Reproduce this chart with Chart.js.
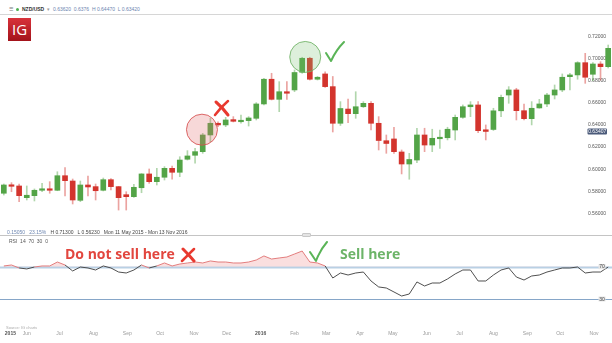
<!DOCTYPE html>
<html>
<head>
<meta charset="utf-8">
<title>NZD/USD weekly with RSI</title>
<script src="https://cdn.jsdelivr.net/npm/chart.js@4.4.1/dist/chart.umd.min.js"></script>
<style>
  html, body { margin: 0; padding: 0; background: #fff; }
  body { position: relative; width: 612px; height: 343px; overflow: hidden; font-family: "Liberation Sans", Arial, sans-serif; }
  .abs { position: absolute; white-space: nowrap; }
  .tiny { font-size: 5px; line-height: 6px; }
  #topbar { left: 0; top: 0; width: 612px; height: 14px; border-bottom: 1px solid #d6d6d6; }
  #logo { left: 8px; top: 18px; width: 23px; height: 23px; background: linear-gradient(#d8323a, #a3131b); color: #fff;
          font: 400 15px/23px "Open Sans", sans-serif; text-align: center; z-index: 3; }
  #priceChart { left: 0; top: 15px; }
  #rsiChart { left: 0; top: 236px; }
  #divider { left: 0; top: 235px; width: 612px; height: 1px; background: #c4c4c4; }
  #handle { left: 302px; top: 233px; width: 9px; height: 4px; border-radius: 1px; background: #e4e4e4; border: 1px solid #c8c8c8; box-sizing: border-box; }
  .note { font: 700 14px/16px "Open Sans", sans-serif; z-index: 3; }
  #marks { left: 0; top: 0; z-index: 4; pointer-events: none; }
</style>
</head>
<body>

<div id="topbar" class="abs"></div>
<div class="abs tiny" style="left:9px; top:6px; color:#777;">☰</div>
<div class="abs" style="left:16px; top:7.5px; width:3px; height:3px; border-radius:50%; background:#4caf50;"></div>
<div class="abs tiny" style="left:22px; top:6px; color:#333; font-weight:bold;">NZD/USD</div>
<div class="abs tiny" style="left:47px; top:6px; color:#999;">▾</div>
<div class="abs tiny" style="left:53px; top:6px; color:#6d86b0;">0.63620 &nbsp;0.6376 &nbsp;H 0.64470 &nbsp;L 0.63420</div>

<div id="logo" class="abs">IG</div>

<canvas id="priceChart" class="abs" width="612" height="217"></canvas>

<div class="abs tiny" style="left:7px; top:229px; color:#6d86b0;">0.15050 &nbsp;&nbsp;23.15% &nbsp;&nbsp;<span style="color:#444">H 0.71300 &nbsp;&nbsp;L 0.56230 &nbsp;&nbsp;Mon 11 May 2015 - Mon 13 Nov 2016</span></div>
<div id="divider" class="abs"></div>
<div id="handle" class="abs"></div>
<div class="abs tiny" style="left:9px; top:238px; color:#555;">RSI &nbsp;14 &nbsp;70 &nbsp;30 &nbsp;0</div>

<canvas id="rsiChart" class="abs" width="612" height="103"></canvas>

<div class="abs" style="left:6px; top:325px; color:#aaa; font-size:4px; line-height:5px;">Source: IG charts</div>

<div class="abs note" style="left:65px; top:246px; color:#e2463e;">Do not sell here</div>
<div class="abs note" style="left:340px; top:246px; color:#6cb468;">Sell here</div>

<svg id="marks" class="abs" width="612" height="343">
  <g fill="none" stroke-linecap="round" stroke-linejoin="round">
    <path d="M216,102 Q222,107 228,115" stroke="#e8392f" stroke-width="3"/>
    <path d="M228,101 Q221,107 215,115" stroke="#e8392f" stroke-width="2.5"/>
    <path d="M326,53 L331,61 Q336,50 344,42" stroke="#5ab457" stroke-width="2"/>
    <path d="M183,249 Q189,255 194,261" stroke="#e8392f" stroke-width="3"/>
    <path d="M194,249 Q188,255 182,261" stroke="#e8392f" stroke-width="2.5"/>
    <path d="M310,252 L316,261 Q320,250 327,242" stroke="#5ab457" stroke-width="2"/>
  </g>
</svg>

<script>
// weekly candles, first one is the week of Mon 11 May 2015
const firstWeek = '2015-05-11';
const candleOpen = [
  0.5782, 0.5857, 0.5848, 0.5742, 0.5760, 0.5809, 0.5821, 0.5809, 0.5941, 0.5893,
  0.5718, 0.5857, 0.5842, 0.5809, 0.5905, 0.5842, 0.5769, 0.5751, 0.5832, 0.5957,
  0.5887, 0.5927, 0.6008, 0.5972, 0.6090, 0.6126, 0.6159, 0.6310, 0.6416, 0.6401,
  0.6449, 0.6430, 0.6440, 0.6461, 0.6591, 0.6815, 0.6633, 0.6702, 0.6718, 0.6878,
  0.7005, 0.6815, 0.6863, 0.6748, 0.6416, 0.6545, 0.6503, 0.6566, 0.6597, 0.6416,
  0.6258, 0.6274, 0.6156, 0.6047, 0.6083, 0.6310, 0.6219, 0.6276, 0.6285, 0.6355,
  0.6470, 0.6566, 0.6582, 0.6357, 0.6360, 0.6529, 0.6672, 0.6718, 0.6530, 0.6458,
  0.6555, 0.6591, 0.6672, 0.6718, 0.6838, 0.6854, 0.6965, 0.6860, 0.6953, 0.6929
];
const candleHigh = [
  0.5866, 0.5878, 0.5866, 0.5848, 0.5821, 0.5872, 0.5887, 0.5977, 0.6014, 0.5911,
  0.5893, 0.5938, 0.5866, 0.5920, 0.5916, 0.5845, 0.5796, 0.5863, 0.5960, 0.6002,
  0.6008, 0.6023, 0.6029, 0.6113, 0.6168, 0.6189, 0.6325, 0.6461, 0.6430, 0.6470,
  0.6476, 0.6491, 0.6476, 0.6603, 0.6824, 0.6869, 0.6793, 0.6793, 0.6899, 0.7014,
  0.7014, 0.6840, 0.6883, 0.6840, 0.6612, 0.6636, 0.6702, 0.6612, 0.6612, 0.6476,
  0.6310, 0.6380, 0.6174, 0.6144, 0.6371, 0.6371, 0.6362, 0.6355, 0.6380, 0.6491,
  0.6582, 0.6612, 0.6612, 0.6401, 0.6552, 0.6672, 0.6748, 0.6733, 0.6591, 0.6612,
  0.6633, 0.6688, 0.6763, 0.6863, 0.6869, 0.6974, 0.7050, 0.6965, 0.6974, 0.7125
];
const candleLow = [
  0.5766, 0.5796, 0.5706, 0.5721, 0.5712, 0.5796, 0.5782, 0.5805, 0.5757, 0.5685,
  0.5706, 0.5757, 0.5721, 0.5803, 0.5812, 0.5630, 0.5630, 0.5745, 0.5787, 0.5872,
  0.5857, 0.5902, 0.5909, 0.5932, 0.6083, 0.6054, 0.6144, 0.6249, 0.6385, 0.6385,
  0.6428, 0.6416, 0.6391, 0.6446, 0.6582, 0.6627, 0.6521, 0.6633, 0.6702, 0.6869,
  0.6808, 0.6808, 0.6742, 0.6337, 0.6396, 0.6421, 0.6461, 0.6559, 0.6355, 0.6174,
  0.6144, 0.6144, 0.5957, 0.5909, 0.6059, 0.6159, 0.6159, 0.6189, 0.6265, 0.6265,
  0.6461, 0.6476, 0.6331, 0.6265, 0.6351, 0.6476, 0.6597, 0.6446, 0.6446, 0.6401,
  0.6552, 0.6566, 0.6636, 0.6702, 0.6718, 0.6815, 0.6778, 0.6802, 0.6808, 0.6917
];
const candleClose = [
  0.5857, 0.5845, 0.5760, 0.5764, 0.5809, 0.5821, 0.5809, 0.5941, 0.5896, 0.5721,
  0.5857, 0.5839, 0.5805, 0.5905, 0.5842, 0.5742, 0.5751, 0.5836, 0.5957, 0.5887,
  0.5927, 0.6008, 0.5972, 0.6083, 0.6120, 0.6159, 0.6310, 0.6416, 0.6401, 0.6446,
  0.6434, 0.6437, 0.6464, 0.6591, 0.6815, 0.6633, 0.6702, 0.6688, 0.6876, 0.7005,
  0.6815, 0.6833, 0.6748, 0.6416, 0.6550, 0.6503, 0.6566, 0.6597, 0.6416, 0.6260,
  0.6233, 0.6159, 0.6047, 0.6088, 0.6310, 0.6219, 0.6280, 0.6285, 0.6362, 0.6470,
  0.6566, 0.6582, 0.6349, 0.6342, 0.6529, 0.6651, 0.6718, 0.6530, 0.6458, 0.6552,
  0.6591, 0.6672, 0.6718, 0.6833, 0.6854, 0.6965, 0.6833, 0.6953, 0.6929, 0.7095
];
const rsiValues = [
  70.9, 72.1, 68.4, 67.2, 69.6, 70.9, 70.9, 75.8, 72.1, 64.7,
  69.6, 68.4, 65.9, 70.9, 68.4, 63.4, 62.2, 65.9, 72.1, 68.4,
  70.9, 74.6, 70.9, 73.3, 74.6, 75.8, 74.6, 77.1, 75.8, 75.8,
  74.6, 74.6, 75.8, 78.3, 83.3, 79.5, 80.8, 82.0, 85.7, 89.4,
  75.8, 74.6, 70.9, 56.0, 62.2, 59.7, 62.2, 63.4, 52.3, 44.9,
  43.6, 38.7, 33.7, 36.2, 51.1, 46.1, 49.8, 49.8, 54.8, 61.0,
  65.9, 65.9, 52.3, 52.3, 59.7, 65.9, 68.4, 57.2, 53.5, 58.5,
  59.7, 63.4, 65.9, 68.4, 68.4, 69.6, 62.2, 63.4, 63.4, 69.6
];
const priceTicks = [0.56, 0.58, 0.60, 0.62, 0.64, 0.66, 0.68, 0.70, 0.72];
const rsiLevels = [70, 30];
const lastPrice = 0.63407;
const monthLabels = ['2015', 'Jun', 'Jul', 'Aug', 'Sep', 'Oct', 'Nov', 'Dec', '2016', 'Feb', 'Mar', 'Apr', 'May', 'Jun', 'Jul', 'Aug', 'Sep', 'Oct', 'Nov'];
const monthDates = ['2015-05-17', '2015-06-01', '2015-07-01', '2015-08-01', '2015-09-01', '2015-10-01', '2015-11-01', '2015-12-01',
  '2016-01-01', '2016-02-01', '2016-03-01', '2016-04-01', '2016-05-01', '2016-06-01', '2016-07-01', '2016-08-01', '2016-09-01', '2016-10-01', '2016-11-01'];

const UP = '#53a447', DOWN = '#d3342d';
const UP_WICK = 'rgba(83,164,71,0.45)', DOWN_WICK = 'rgba(211,52,45,0.45)';

Chart.defaults.font.family = '"Liberation Sans", Arial, sans-serif';

const weekIndex = d => (Date.parse(d) - Date.parse(firstWeek)) / (7 * 864e5);
const isUp = i => candleClose[i] >= candleOpen[i];
const xRange = { type: 'linear', min: -0.5, max: candleOpen.length - 0.5, offset: false };

const priceMarks = {
  id: 'priceMarks',
  afterDatasetsDraw(chart) {
    const { ctx, scales: { x, y } } = chart;
    ctx.save();
    // highlight circles
    [[25.9, 0.6358, 'rgba(214,80,80,0.85)', 'rgba(226,110,110,0.27)'],
     [39.4, 0.7017, 'rgba(110,178,100,0.85)', 'rgba(120,190,110,0.25)']].forEach(([i, p, stroke, fill]) => {
      ctx.beginPath();
      ctx.arc(x.getPixelForValue(i), y.getPixelForValue(p), 15.5, 0, Math.PI * 2);
      ctx.fillStyle = fill;
      ctx.fill();
      ctx.lineWidth = 1;
      ctx.strokeStyle = stroke;
      ctx.stroke();
    });
    // last price tag
    const ty = y.getPixelForValue(lastPrice);
    ctx.fillStyle = '#4b5a7a';
    ctx.beginPath();
    ctx.roundRect(587.5, ty - 3, 19.5, 6, 1);
    ctx.fill();
    ctx.fillStyle = '#fff';
    ctx.font = '5px "Liberation Sans", Arial, sans-serif';
    ctx.textAlign = 'center';
    ctx.textBaseline = 'middle';
    ctx.fillText(lastPrice.toFixed(5), 597.2, ty + 0.3);
    ctx.restore();
  }
};

new Chart(document.getElementById('priceChart'), {
  type: 'bar',
  data: {
    datasets: [{
      label: 'wicks',
      data: candleHigh.map((h, i) => ({ x: i, y: [candleLow[i], h] })),
      backgroundColor: candleHigh.map((h, i) => isUp(i) ? UP_WICK : DOWN_WICK),
      barThickness: 1,
      grouped: false,
      order: 2
    }, {
      label: 'NZD/USD',
      data: candleOpen.map((o, i) => ({ x: i, y: [o, candleClose[i]] })),
      backgroundColor: candleOpen.map((o, i) => isUp(i) ? UP : DOWN),
      barThickness: 5,
      minBarLength: 1.5,
      grouped: false,
      order: 1
    }]
  },
  options: {
    responsive: false,
    animation: false,
    layout: { padding: 0 },
    plugins: { legend: { display: false }, tooltip: { enabled: false } },
    scales: {
      x: { ...xRange, display: false, grid: { offset: false } },
      y: {
        position: 'right',
        min: 0.5431,
        max: 0.7397,
        beginAtZero: false,
        grid: { display: false, drawTicks: false },
        border: { display: false },
        afterBuildTicks: s => { s.ticks = priceTicks.map(v => ({ value: v })); },
        afterFit: s => { s.width = 0; s.paddingTop = 0; s.paddingBottom = 0; },
        ticks: {
          mirror: true,
          padding: -6,
          color: '#555',
          font: { size: 5 },
          callback: v => v.toFixed(5)
        }
      }
    }
  },
  plugins: [priceMarks]
});

const rsiGuides = {
  id: 'rsiGuides',
  beforeDatasetsDraw(chart) {
    const { ctx, chartArea, scales: { y } } = chart;
    ctx.save();
    rsiLevels.forEach((lv, k) => {
      const py = Math.round(y.getPixelForValue(lv)) + 0.5;
      ctx.strokeStyle = k === 0 ? '#b9d0e4' : '#86a6c8';
      ctx.lineWidth = k === 0 ? 2 : 1;
      ctx.beginPath();
      ctx.moveTo(chartArea.left, py);
      ctx.lineTo(chartArea.right, py);
      ctx.stroke();
    });
    ctx.restore();
  },
  afterDatasetsDraw(chart) {
    const { ctx, scales: { y } } = chart;
    ctx.save();
    ctx.font = '5px "Liberation Sans", Arial, sans-serif';
    ctx.textAlign = 'center';
    ctx.textBaseline = 'middle';
    rsiLevels.forEach(lv => {
      const py = y.getPixelForValue(lv);
      ctx.fillStyle = '#e6e6e6';
      ctx.fillRect(598.5, py - 2.5, 7, 5);
      ctx.fillStyle = '#444';
      ctx.fillText(String(lv), 602, py + 0.3);
    });
    ctx.restore();
  }
};

new Chart(document.getElementById('rsiChart'), {
  type: 'line',
  data: {
    datasets: [{
      label: 'RSI 14',
      data: rsiValues.map((v, i) => ({ x: i, y: v })),
      borderColor: '#3c3c3c',
      borderWidth: 0.9,
      pointRadius: 0,
      tension: 0,
      fill: { target: { value: 70 }, above: 'rgba(236,140,140,0.28)', below: 'rgba(0,0,0,0)' },
      segment: {
        borderColor: c => (c.p0.parsed.y + c.p1.parsed.y) / 2 > 70 ? '#e07070' : '#3c3c3c'
      }
    }]
  },
  options: {
    responsive: false,
    animation: false,
    layout: { padding: 0 },
    plugins: { legend: { display: false }, tooltip: { enabled: false } },
    scales: {
      x: {
        ...xRange,
        grid: { display: false, drawTicks: false },
        border: { display: false },
        afterBuildTicks: s => { s.ticks = monthDates.map(d => ({ value: weekIndex(d) })); },
        afterFit: s => { s.paddingLeft = 0; s.paddingRight = 0; },
        ticks: {
          autoSkip: false,
          maxRotation: 0,
          minRotation: 0,
          padding: 2,
          color: c => /^\d{4}$/.test(monthLabels[c.index]) ? '#555' : '#9a9a9a',
          font: c => ({ size: 5, weight: /^\d{4}$/.test(monthLabels[c.index]) ? 'bold' : 'normal' }),
          callback: (v, i) => monthLabels[i]
        }
      },
      y: {
        display: false,
        min: -7.15,
        max: 108
      }
    }
  },
  plugins: [rsiGuides]
});
</script>
</body>
</html>
